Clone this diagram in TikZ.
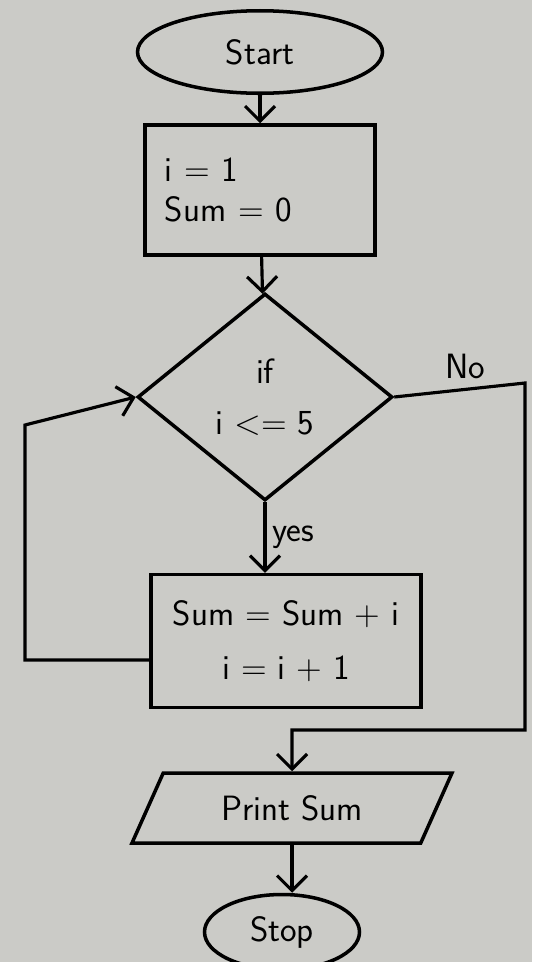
\documentclass[tikz,border=0pt]{standalone}
\usepackage{tikz}
\usetikzlibrary{positioning,shapes.geometric,arrows.meta,calc}

\definecolor{paper}{RGB}{203,203,199}

\begin{document}
\begin{tikzpicture}[on grid, auto,
      >={Straight Barb[length=3mm,width=6mm]},
      every node/.style={font=\sffamily\fontsize{20}{23}\selectfont},
      term/.style={ellipse, draw, line width=2pt, minimum width=4.9cm, minimum height=1.65cm},
      proc/.style={rectangle, draw, line width=2pt, minimum width=4.6cm, minimum height=2.6cm},
      dec/.style={diamond, draw, line width=2pt, minimum width=5.1cm, minimum height=4.14cm, align=center},
      io/.style={trapezium, trapezium left angle=50, trapezium right angle=130,
        trapezium stretches body, draw, line width=2pt, minimum width=6.4cm, minimum height=1.4cm},
      flow/.style={->, line width=1.8pt}
  ]
    % paper
    \fill[paper] (0,0) rectangle (10.64,-19.24);
    \useasboundingbox (0,0) rectangle (10.64,-19.24);

    \node[term] (start) at (5.2,-1.04) {Start};
    \node[proc, below=2.76 of start, align=left, text width=3.8cm, inner sep=0.4cm] (init) {i = 1\\ Sum = 0};
    \node[dec, below=4.14 of init, xshift=0.1cm] (cond) {if\\[6pt] i <= 5};
    \node[proc, below=4.88 of cond, xshift=0.42cm, minimum width=5.4cm, minimum height=2.66cm, align=center] (upd) {Sum = Sum + i\\[8pt] i = i + 1};
    \node[io, below=3.34 of upd, xshift=0.12cm] (print) {Print Sum};
    \node[term, below=2.48 of print, xshift=-0.2cm, minimum width=3.1cm, minimum height=1.5cm] (stop) {Stop};

    \coordinate (loopcorner) at (0.5,-8.5);
    \coordinate (nocorner) at (10.5,-7.66);
    \coordinate (noback) at (10.5,-14.6);

    \path[flow]
    (start) edge (init)
    (init) edge (cond)
    (cond.south) edge node {yes} (cond.south |- upd.north)
    (print.south) edge (print.south |- stop.north)
          ;
    % back to the test
    \draw[flow] ([yshift=-0.38cm]upd.west) -| (loopcorner) -- (cond.west);
    % leave the loop
    \draw[flow] (cond.east) -- node[near end] {No} (nocorner) -- (noback) -| (print.north);
  \end{tikzpicture}
\end{document}
